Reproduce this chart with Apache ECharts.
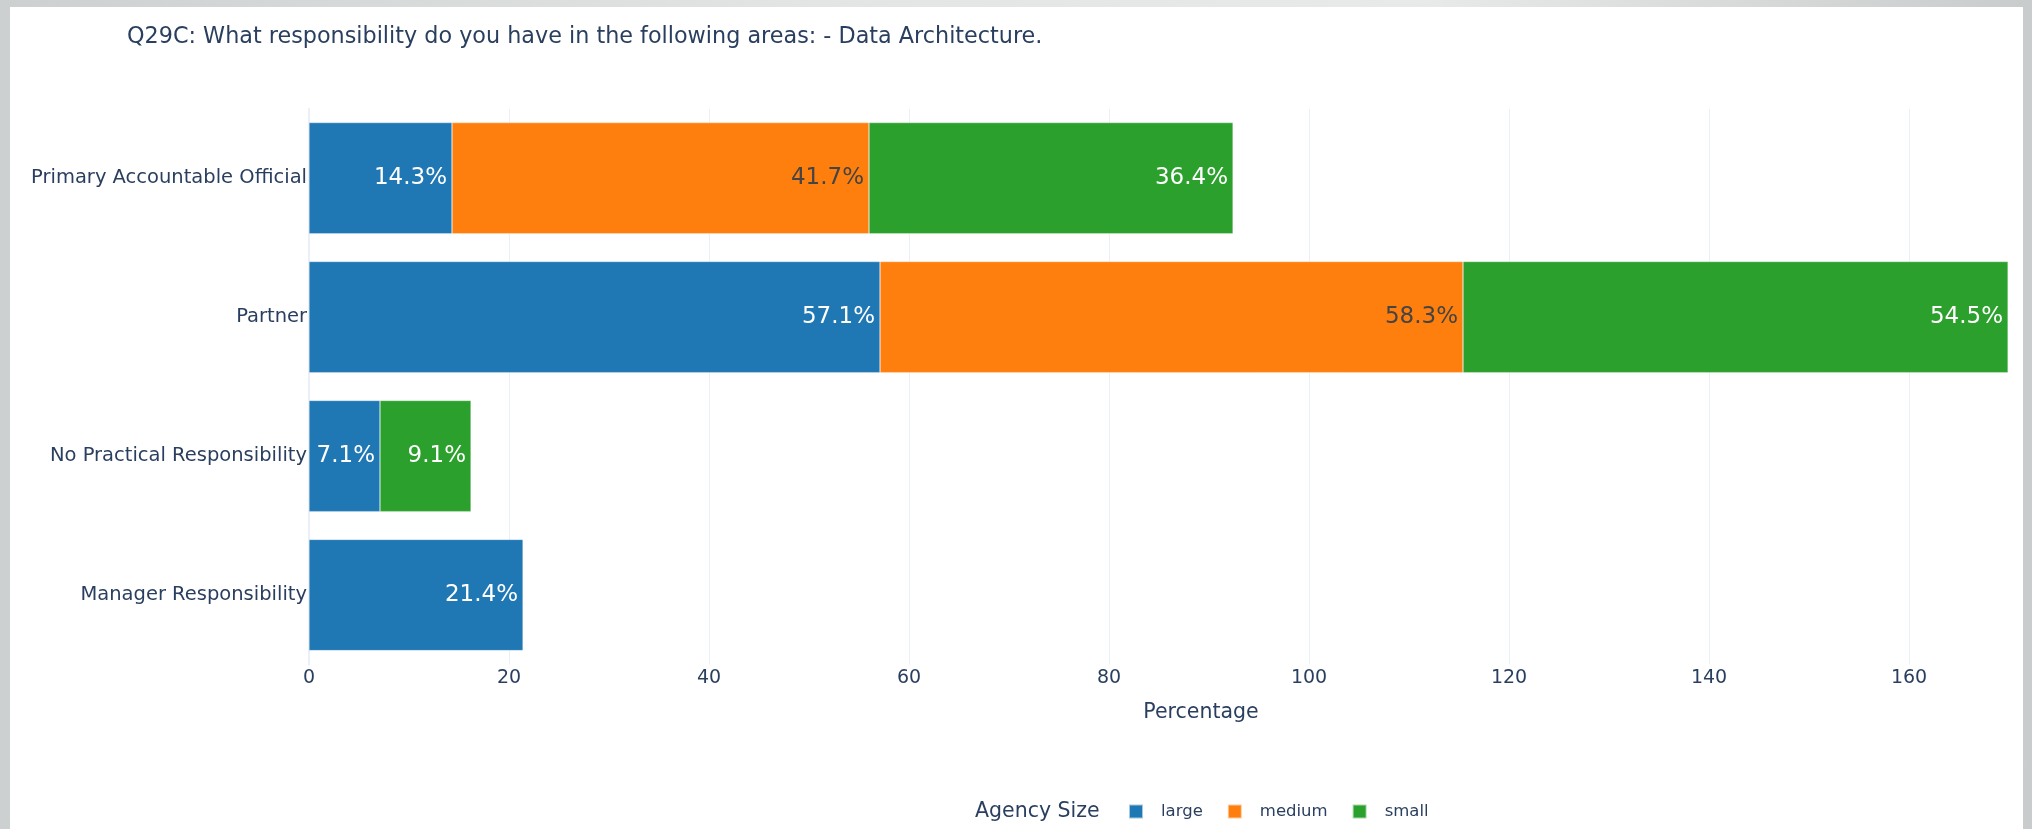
<!DOCTYPE html>
<html>
<head>
<meta charset="utf-8">
<title>Q29C: Data Architecture</title>
<script src="https://cdn.jsdelivr.net/npm/echarts@6/dist/echarts.min.js"></script>
<style>
  html, body { margin: 0; padding: 0; width: 2032px; height: 829px; overflow: hidden; }
  body { background: linear-gradient(to right, #cdd0d0 0%, #e3e5e5 40%, #e8e9e9 70%, #c9cccc 100%); position: relative; }
  #panel { position: absolute; left: 10px; top: 7px; width: 2013px; height: 822px; background: #ffffff; overflow: hidden; }
  /* the figure is wider than the visible panel; its right part is cut off */
  #chart { position: absolute; left: -10px; top: -7px; width: 2120px; height: 829px; }
</style>
</head>
<body>
<div id="panel"><div id="chart"></div></div>
<script>
// Responsibility roles, listed top to bottom
const categories = [
  'Primary Accountable Official',
  'Partner',
  'No Practical Responsibility',
  'Manager Responsibility'
];

// Percentage of respondents per agency size (null = no responses)
const largeValues  = [14.3, 57.1, 7.1, 21.4];
const mediumValues = [41.7, 58.3, null, null];
const smallValues  = [36.4, 54.5, 9.1, null];

const seriesNames = ['large', 'medium', 'small'];
const xTickStep = 20;

const FONT = '"DejaVu Sans", Verdana, sans-serif';
const INK = '#2a3f5f';
const GRID = '#ebf0f8';

// Value axis runs a little past the longest stacked bar (5% headroom)
const totals = categories.map((_, i) =>
  [largeValues[i], mediumValues[i], smallValues[i]].reduce((s, v) => s + (v || 0), 0));
const xMax = Math.max(...totals) * 1.05;

function barSeries(name, values, color, labelColor) {
  return {
    name: name,
    type: 'bar',
    stack: 'total',
    data: values,
    barCategoryGap: '20%',
    itemStyle: { color: color, borderColor: 'rgba(255,255,255,0.6)', borderWidth: 0.5 },
    label: {
      show: true,
      position: 'insideRight',
      distance: 5,
      color: labelColor,
      fontFamily: FONT,
      fontSize: 23,
      formatter: p => p.value == null ? '' : p.value.toFixed(1) + '%'
    },
    emphasis: { disabled: true }
  };
}

const chart = echarts.init(document.getElementById('chart'), null, { renderer: 'canvas' });

chart.setOption({
  animation: false,
  backgroundColor: 'transparent',
  title: [
    {
      text: 'Q29C: What responsibility do you have in the following areas: - Data Architecture.',
      left: 127,
      top: 26.5,
      padding: 0,
      textStyle: { color: INK, fontFamily: FONT, fontSize: 22.3, fontWeight: 'normal' }
    },
    {
      text: 'Agency Size',
      left: 975,
      top: 801,
      padding: 0,
      textStyle: { color: INK, fontFamily: FONT, fontSize: 20.5, fontWeight: 'normal' }
    }
  ],
  legend: {
    data: seriesNames,
    left: 1128,
    top: 803,
    padding: 0,
    icon: 'rect',
    itemWidth: 14,
    itemHeight: 14,
    itemGap: 24,
    selectedMode: false,
    textStyle: { color: INK, fontFamily: FONT, fontSize: 16.5, padding: [0, 0, 0, 13] }
  },
  grid: { left: 309, width: 1784, top: 108.7, bottom: 164.5, containLabel: false },
  xAxis: {
    type: 'value',
    min: 0,
    max: xMax,
    interval: xTickStep,
    name: 'Percentage',
    nameLocation: 'middle',
    nameGap: 37.5,
    nameTextStyle: { color: INK, fontFamily: FONT, fontSize: 20.5 },
    axisLine: { show: false },
    axisTick: { show: false },
    axisLabel: {
      color: INK, fontFamily: FONT, fontSize: 19, margin: 4,
      showMaxLabel: false,
      formatter: v => (v % xTickStep === 0 ? String(v) : '')
    },
    splitLine: { show: true, showMaxLine: false, lineStyle: { color: GRID, width: 1 } }
  },
  yAxis: {
    type: 'category',
    data: categories,
    inverse: true,
    axisLine: { show: true, lineStyle: { color: GRID, width: 2 } },
    axisTick: { show: false },
    axisLabel: { color: INK, fontFamily: FONT, fontSize: 19.5, margin: 2 },
    splitLine: { show: false }
  },
  series: [
    barSeries('large', largeValues, '#1f77b4', '#ffffff'),
    barSeries('medium', mediumValues, '#ff7f0e', '#444444'),
    barSeries('small', smallValues, '#2ca02c', '#ffffff')
  ]
});
</script>
</body>
</html>
